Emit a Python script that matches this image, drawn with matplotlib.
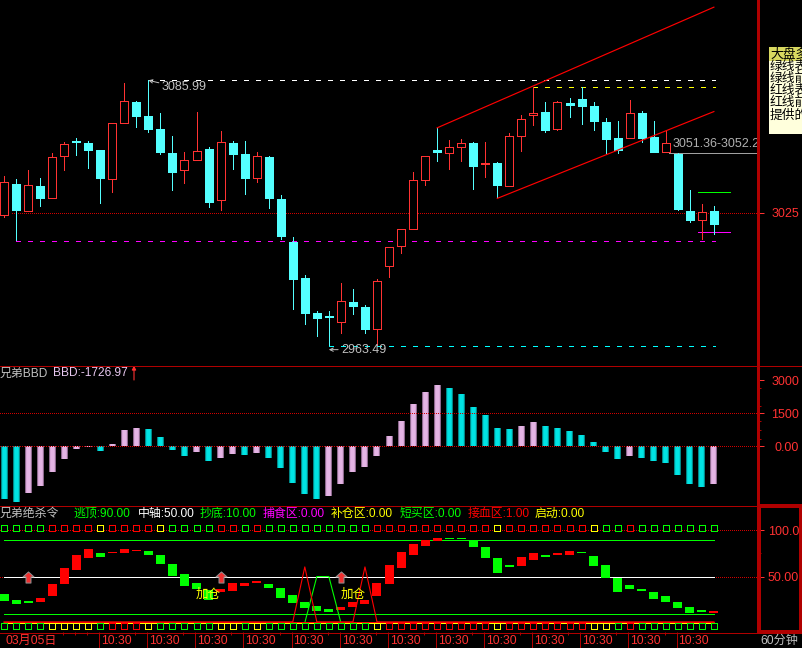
import matplotlib
matplotlib.use('Agg')
import matplotlib.pyplot as plt
from matplotlib.lines import Line2D
from matplotlib.path import Path
from matplotlib.patches import Rectangle

plt.rcParams['font.family'] = ['Liberation Sans', 'Noto Sans CJK SC', 'DejaVu Sans']
plt.rcParams['font.size'] = 8.6
plt.rcParams['lines.scale_dashes'] = False

# price candles, 60 bars of 60 min
opens = [3023.6, 3038.1, 3025.5, 3037.2, 3031.4, 3050.8, 3058.0, 3057.0, 3053.9, 3040.2,
         3066.0, 3075.9, 3069.4, 3063.4, 3052.4, 3044.3, 3049.0, 3054.2, 3030.5, 3057.0,
         3052.0, 3040.7, 3050.7, 3031.3, 3011.5, 2994.9, 2978.8, 2977.4, 2974.3, 2983.9,
         2981.6, 2971.0, 3000.1, 3009.3, 3017.2, 3039.7, 3053.9, 3052.2, 3054.9, 3057.1,
         3047.0, 3047.9, 3037.0, 3060.0, 3069.7, 3071.4, 3063.2, 3075.5, 3077.4, 3074.1,
         3066.8, 3059.4, 3059.1, 3070.9, 3059.9, 3052.5, 3052.0, 3025.8, 3021.3, 3025.8]
closes = [3039.0, 3025.9, 3037.6, 3031.4, 3050.5, 3056.5, 3057.2, 3053.4, 3040.5, 3066.2,
          3076.3, 3069.1, 3063.1, 3052.5, 3043.3, 3049.1, 3053.3, 3029.5, 3057.4, 3051.6,
          3040.5, 3051.0, 3031.3, 3013.8, 2994.0, 2978.3, 2976.0, 2976.7, 2984.2, 2981.6,
          2971.0, 2993.5, 3009.2, 3017.5, 3040.1, 3051.1, 3052.5, 3055.1, 3057.0, 3046.0,
          3047.9, 3037.3, 3060.2, 3068.0, 3070.8, 3062.6, 3075.9, 3074.1, 3073.7, 3066.8,
          3058.5, 3053.4, 3070.8, 3058.9, 3052.5, 3057.0, 3026.2, 3021.2, 3025.2, 3019.3]
highs = [3041.9, 3040.5, 3044.7, 3041.0, 3052.4, 3057.4, 3059.3, 3058.0, 3053.9, 3066.2,
         3084.6, 3076.3, 3085.99, 3070.9, 3060.3, 3053.0, 3071.4, 3055.3, 3062.6, 3058.0,
         3058.0, 3053.0, 3051.1, 3033.2, 3013.8, 2996.3, 2979.7, 2979.7, 2992.6, 2989.9,
         2982.5, 2994.5, 3009.2, 3017.5, 3043.7, 3051.1, 3064.0, 3058.5, 3058.9, 3057.6,
         3057.6, 3048.4, 3061.6, 3069.9, 3083.0, 3076.0, 3076.4, 3077.8, 3083.0, 3076.0,
         3068.6, 3067.2, 3076.9, 3071.8, 3067.2, 3063.1, 3052.5, 3035.5, 3029.0, 3028.1]
lows = [3022.7, 3012.0, 3025.4, 3027.8, 3031.3, 3044.2, 3051.1, 3045.1, 3029.0, 3034.1,
        3065.9, 3064.0, 3061.7, 3051.6, 3035.0, 3038.2, 3048.9, 3027.2, 3025.8, 3044.7,
        3033.2, 3038.7, 3026.7, 3012.4, 2980.2, 2973.3, 2967.7, 2963.49, 2969.1, 2977.9,
        2969.1, 2963.6, 2994.9, 3006.0, 3017.1, 3037.3, 3048.4, 3044.7, 3048.4, 3035.5,
        3041.0, 3031.6, 3036.9, 3053.0, 3064.9, 3061.7, 3062.6, 3068.6, 3065.4, 3062.6,
        3052.0, 3052.0, 3059.0, 3057.1, 3052.5, 3052.4, 3025.8, 3020.3, 3012.4, 3014.7]

# channel lines (bar index, price)
channel_upper_x = [36, 59]
channel_upper_y = [3064.1, 3119.7]
channel_lower_x = [41, 59]
channel_lower_y = [3031.6, 3071.6]

# BBD bars, bbd_pink marks the lilac ones
bbd = [-2394, -2530, -2121, -1803, -1167, -576, -121, -30, -212, 106,
       742, 833, 788, 424, -167, -439, -258, -667, -530, -348,
       -394, -303, -530, -985, -1667, -2167, -2394, -2258, -1712, -1167,
       -939, -439, 470, 1152, 1924, 2470, 2788, 2652, 2379, 1788,
       1424, 833, 788, 924, 1106, 924, 833, 697, 515, 197,
       -258, -576, -439, -530, -667, -758, -1303, -1712, -1848, -1726.97]
bbd_pink = [2, 3, 4, 5, 6, 7, 9, 10, 11, 16, 18, 19, 21, 27, 28, 29, 30, 31,
            32, 33, 34, 35, 36, 43, 44, 52, 59]

# oscillator blocks
osc_open = [31.2, 24.7, 23.6, 22.5, 29.0, 42.0, 57.1, 70.1, 75.5, 75.5,
            75.5, 77.7, 77.7, 73.3, 63.6, 52.8, 43.1, 35.5, 33.3, 34.4,
            39.8, 43.1, 42.0, 37.7, 30.1, 22.5, 18.2, 15.0, 13.9, 17.1,
            20.4, 29.0, 42.0, 59.3, 73.3, 83.1, 88.5, 91.7, 91.7, 88.5,
            82.0, 70.1, 62.5, 61.4, 67.9, 73.3, 73.3, 73.3, 76.6, 72.3,
            62.5, 48.5, 40.9, 36.6, 33.3, 29.0, 22.5, 17.1, 13.9, 10.6]
osc_close = [23.6, 20.4, 21.4, 26.8, 42.0, 59.3, 73.3, 79.8, 71.2, 76.6,
             79.8, 78.7, 73.3, 63.6, 50.6, 39.8, 36.6, 24.7, 36.6, 43.1,
             43.1, 45.2, 37.7, 26.8, 21.4, 16.0, 12.8, 11.7, 17.1, 22.5,
             24.7, 43.1, 62.5, 76.6, 85.2, 89.5, 91.7, 90.3, 90.3, 82.0,
             70.1, 53.9, 60.4, 71.2, 75.5, 71.2, 75.5, 77.7, 75.5, 61.4,
             48.5, 33.3, 36.6, 34.4, 25.8, 22.5, 16.0, 10.6, 11.7, 12.8]

# top and bottom rows of squares: g, r, y
signal_top = list('ggggrrrryrrrryggggrrgrggggggggg' + 'rrrrrrrrrryrrrrrrryggrggggggg')
signal_bottom = list('ggggyyyygrrrygggggyygyggggggggg' + 'yrrrrrrrrryrrrrrrryygrggggggg')
signal_colors = {'g': '#00ff00', 'r': '#ff0000', 'y': '#ffff00'}

blood_line = [1, 1, 1, 1, 1, 1, 1, 1, 1, 1, 1, 1, 1, 1, 1, 1, 1, 1, 1, 1,
              1, 1, 1, 1, 1, 60.4, 1, 1, 1, 1, 60.4, 1, 1, 1, 1, 1, 1, 1, 1, 1,
              1, 1, 1, 1, 1, 1, 1, 1, 1, 1, 1, 1, 1, 1, 1, 1, 1, 1, 1, 1]
refill_line = [0, 0, 0, 0, 0, 0, 0, 0, 0, 0, 0, 0, 0, 0, 0, 0, 0, 0, 0, 0,
               0, 0, 0, 0, 0, 0, 50, 50, 0, 0, 0, 0, 0, 0, 0, 0, 0, 0, 0, 0,
               0, 0, 0, 0, 0, 0, 0, 0, 0, 0, 0, 0, 0, 0, 0, 0, 0, 0, 0, 0]

arrow_bars = [2, 18, 28]
add_bars = [17, 29]

time_majors = [7.9, 11.9, 15.9, 19.9, 23.9, 27.9, 31.9, 35.9, 39.9, 43.9, 47.9, 51.9, 55.9]
time_minors = [4.9, 5.9, 6.9, 10.9, 14.9, 18.9, 22.9, 26.9, 30.9, 34.9, 38.9, 42.9, 46.9, 50.9, 54.9]
note_lines = ['大盘多', '绿线表', '绿线前', '红线表', '红线前', '提供的']

W, H = 802, 648
RED = '#ff3232'
DARK = '#b00000'
GRAY = '#c0c0c0'
CYAN = '#54ffff'
LW = 0.72
BAR_PX = 12.032
ORIGIN = 4.0
# one pixel in price units, the candle outlines sit that much inside the lower edge
PRICE_PX = 0.46
DOT = (0, (0.72, 1.44))
DASH = (0, (2.9, 5.76))


def add_panel(top, bottom, ylim):
    ax = fig.add_axes([0, 1 - bottom / H, 757.5 / W, (bottom - top) / H])
    ax.set_facecolor('black')
    ax.set_xlim(-ORIGIN / BAR_PX, (757.5 - ORIGIN) / BAR_PX)
    ax.set_ylim(*ylim)
    for s in ax.spines.values():
        s.set_visible(False)
    ax.set_xticks([])
    ax.yaxis.tick_right()
    ax.tick_params(axis='y', which='major', length=4.3, width=LW, color=RED,
                   labelcolor=RED, pad=25.7, labelsize=9)
    ax.tick_params(axis='y', which='minor', length=2, width=LW, color=DARK)
    return ax


def set_right_ticks(ax, values, labels, minors=()):
    ax.set_yticks(values, labels)
    ax.set_yticks(list(minors), minor=True)
    for label in ax.get_yticklabels():
        label.set_ha('right')


def hline(ax, y, x0, x1, color, ls='-', z=3):
    ax.plot([x0, x1], [y, y], color=color, lw=LW, ls=ls, antialiased=False, zorder=z)


def fig_text(x, y, s, color, **kw):
    fig.text(x / W, 1 - y / H, s, color=color, va='center', **kw)


fig = plt.figure(figsize=(W / 100, H / 100), dpi=100, facecolor='black')

# price panel
ax_price = add_panel(0, 365.5, (2954.6, 3123.0))
set_right_ticks(ax_price, [3025], ['3025'])
hline(ax_price, 3025, 0.66, 63, '#d00000', DOT, 1)
hline(ax_price, 3085.99, 12, 59.1, 'white', DASH)
hline(ax_price, 3083.0, 44, 59.1, '#ffff00', DASH)
hline(ax_price, 3012.0, 1, 59.1, '#ff00ff', DASH)
hline(ax_price, 2963.49, 27, 59.1, '#00ffff', DASH)
hline(ax_price, 3052.5, 55.3, 63, '#a0a0a0', z=2)
hline(ax_price, 3034.4, 57.7, 60.3, '#00ff00')
hline(ax_price, 3016.0, 57.7, 60.3, '#ff00ff')

for i in range(len(opens)):
    up = closes[i] >= opens[i]
    col = RED if up else CYAN
    body_low = min(opens[i], closes[i]) + PRICE_PX
    body_high = max(opens[i], closes[i])
    ax_price.plot([i, i], [lows[i] + PRICE_PX, highs[i]], color=col, lw=LW, antialiased=False, zorder=4)
    ax_price.bar(i, max(body_high - body_low, 0.1), bottom=body_low, width=8 / BAR_PX,
                 facecolor='black' if up else CYAN, edgecolor=col, linewidth=LW,
                 antialiased=False, zorder=5)

ax_price.plot(channel_upper_x, channel_upper_y, color='#ff0000', lw=0.85, zorder=6)
ax_price.plot(channel_lower_x, channel_lower_y, color='#ff0000', lw=0.85, zorder=6)

ax_price.annotate('3085.99', xy=(12, 3085.99), xytext=(13.1, 3082.9), color=GRAY, va='center', fontsize=9,
                  arrowprops=dict(arrowstyle='->', color=GRAY, lw=0.7, shrinkA=0, shrinkB=0,
                                  mutation_scale=6, relpos=(0, 0.8)), zorder=7)
ax_price.annotate('2963.49', xy=(27, 2961.9), xytext=(28.0, 2961.9), color=GRAY, va='center', fontsize=9,
                  arrowprops=dict(arrowstyle='->', color=GRAY, lw=0.7, shrinkA=0, shrinkB=0,
                                  mutation_scale=6, relpos=(0, 0.5)), zorder=7)
ax_price.text(55.55, 3056.7, '3051.36-3052.2', color='#b0b0b0', va='center', fontsize=9, clip_on=True, zorder=7)

# BBD panel
ax_bbd = add_panel(365.5, 505.5, (-2682, 3672))
set_right_ticks(ax_bbd, [3000, 1500, 0], ['3000', '1500', '0.00'], [2667, 1818, 1167, 727, 318])
xs = list(range(len(bbd)))
for width, dark_c, pink_c in [(7, '#008888', '#8c688c'), (5, '#00d4d4', '#d8a8d8'), (3, '#00e4e4', '#e4b4e4')]:
    cols = [pink_c if i in bbd_pink else dark_c for i in xs]
    ax_bbd.bar(xs, bbd, width=width / BAR_PX, color=cols, antialiased=False, zorder=2)
hline(ax_bbd, 0, -0.37, 62.6, '#d00000', DOT, 3)
hline(ax_bbd, 1500, -0.37, 62.6, '#d00000', DOT, 3)

# oscillator panel
ax_osc = add_panel(505.5, 632, (-9.95, 126.8))
set_right_ticks(ax_osc, [100, 50], ['100.0', '50.00'], [75])
hline(ax_osc, 100, -0.37, 62.6, '#d00000', DOT, 1)
hline(ax_osc, 50, -0.37, 62.6, '#d00000', DOT, 1)
hline(ax_osc, 90, 0, 59, '#00ff00', z=2)
hline(ax_osc, 10, 0, 59, '#00ff00', z=2)
hline(ax_osc, 50, 0, 59, 'white', z=3)

xs = list(range(len(osc_open)))
osc_cols = ['#ff0000' if osc_close[i] > osc_open[i] else '#00ff00' for i in xs]
ax_osc.bar(xs, [abs(osc_close[i] - osc_open[i]) for i in xs],
           bottom=[min(osc_close[i], osc_open[i]) for i in xs],
           width=9 / BAR_PX, color=osc_cols, antialiased=False, zorder=4)

ax_osc.plot(xs, refill_line, color='#00ff00', lw=0.8, zorder=5)
hline(ax_osc, 0, 0, 59, '#ffff00', z=5)
ax_osc.plot(xs, blood_line, color='#ff0000', lw=0.8, zorder=6)
hline(ax_osc, 1, 0, 59, '#ff0000', z=6)

for row, y in [(signal_top, 102.5), (signal_bottom, -3.46)]:
    ax_osc.bar(xs, 6.49, bottom=y - 3.245, width=6 / BAR_PX, facecolor='black',
               edgecolor=[signal_colors[s] for s in row], linewidth=LW, antialiased=False, zorder=7)

arrow_shape = Path([(0, 1), (1, 0.1), (0.45, 0.1), (0.45, -1), (-0.45, -1), (-0.45, 0.1), (-1, 0.1), (0, 1)], closed=True)
ax_osc.plot(arrow_bars, [50] * len(arrow_bars), marker=arrow_shape, ms=8, mfc='#f03030', mec='#909090',
            mew=LW, ls='none', zorder=8)
for i in add_bars:
    ax_osc.text(i, 30, '加仓', color='#ffff00', ha='center', va='center', fontsize=9, zorder=9)

# time strip under the last panel
ax_osc.set_xticks(time_majors, [''] * len(time_majors))
ax_osc.set_xticks(time_minors, minor=True)
ax_osc.tick_params(axis='x', which='major', length=11.5, width=LW, color=DARK, bottom=True)
ax_osc.tick_params(axis='x', which='minor', length=2.5, width=LW, color=DARK)
for t in time_majors:
    fig_text(ORIGIN + t * BAR_PX + 2, 640.5, '10:30', RED, fontsize=8.7)
fig_text(5, 640.5, '03月05日', RED, fontsize=8.7)
fig_text(760, 640.5, '60分钟', GRAY, fontsize=8.7)

# panel titles
fig_text(0, 373.5, '兄弟BBD', GRAY)
fig_text(53, 373.5, 'BBD:-1726.97', '#e8c8f0')
ax_bbd.annotate('', xy=(134 / W, 1 - 365.5 / H), xytext=(134 / W, 1 - 380 / H),
                xycoords='figure fraction', textcoords='figure fraction', annotation_clip=False,
                arrowprops=dict(arrowstyle='-|>', color=RED, lw=0.8, mutation_scale=6, shrinkA=0, shrinkB=0))
titles = [(0, '兄弟绝杀令', GRAY), (73, '逃顶:90.00', '#00ff00'), (138, '中轴:50.00', 'white'),
          (200, '抄底:10.00', '#00ff00'), (263, '捕食区:0.00', '#ff00ff'), (331, '补仓区:0.00', '#ffff00'),
          (400, '短买区:0.00', '#00ff00'), (467.5, '接血区:1.00', '#ff0000'), (535, '启动:0.00', '#ffff00')]
for x, s, c in titles:
    fig_text(x, 513.5, s, c)

# frame lines
for y in [365.5, 505.5, 632.5]:
    fig.add_artist(Line2D([0, 1], [1 - y / H] * 2, color=DARK, lw=LW, antialiased=False))
fig.add_artist(Line2D([757.5 / W] * 2, [1 - 632 / H, 1], color=DARK, lw=LW * 1.3, antialiased=False))
fig.add_artist(Rectangle((758.5 / W, 1 - 632 / H), 42.5 / W, 126 / H, transform=fig.transFigure,
                         fill=False, ec=DARK, lw=1.5, antialiased=False))

# floating note at the right edge
fig.add_artist(Rectangle((769 / W, 1 - 134 / H), 33 / W, 87 / H, transform=fig.transFigure,
                         fc='#ffffdc', ec='none', antialiased=False))
fig.add_artist(Rectangle((769 / W, 1 - 61 / H), 33 / W, 14 / H, transform=fig.transFigure,
                         fc='#d8d860', ec='none', antialiased=False))
for k, s in enumerate(note_lines):
    fig_text(770, 54.5 + 12.2 * k, s, 'black', fontsize=9.2, zorder=10)

fig.savefig('out.png', dpi=100)
